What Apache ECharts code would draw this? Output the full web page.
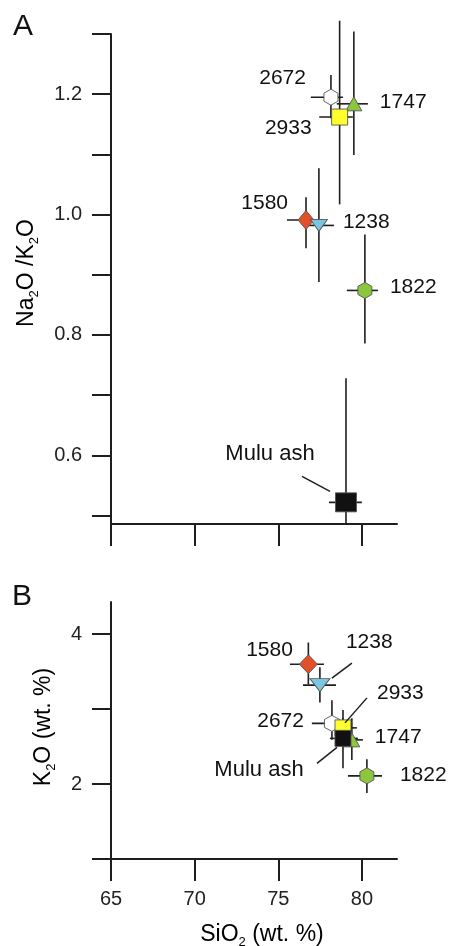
<!DOCTYPE html>
<html><head><meta charset="utf-8">
<script src="https://cdn.jsdelivr.net/npm/echarts@6/dist/echarts.min.js"></script>
<style>html,body{margin:0;padding:0;background:#fff}#c{width:451px;height:946px}</style>
</head><body><div id="c"></div>
<script>
// sample order (also draw order)
const samples = ['1822','1580','1238','2672','1747','2933','Mulu ash'];

// Panel A: SiO2 vs Na2O/K2O
const sio2A    = [80.18, 76.66, 77.43, 78.15, 79.52, 78.67, 79.05];
const sio2LoA  = [79.10, 75.52, 76.60, 76.95, 78.50, 77.45, 78.03];
const sio2HiA  = [80.96, 77.80, 78.33, 78.87, 80.36, 79.46, 80.00];
const ratioA   = [0.874, 0.991, 0.982, 1.195, 1.184, 1.162, 0.522];
const ratioLoA = [0.786, 0.944, 0.888, 1.160, 1.099, 1.017, 0.486];
const ratioHiA = [0.967, 1.029, 1.077, 1.232, 1.304, 1.322, 0.728];

// Panel B: SiO2 vs K2O
const sio2B   = [80.30, 76.80, 77.49, 78.21, 79.40, 78.87, 78.87];
const sio2LoB = [79.17, 75.70, 76.48, 77.01, 78.40, 78.27, 78.09];
const sio2HiB = [81.20, 77.73, 78.45, 79.20, 80.06, 79.70, 79.76];
const k2oB    = [2.11, 3.60, 3.32, 2.81, 2.59, 2.75, 2.61];
const k2oLoB  = [1.88, 3.33, 3.09, 2.59, 2.32, 2.49, 2.21];
const k2oHiB  = [2.33, 3.89, 3.56, 3.12, 2.88, 2.99, 2.88];

// tick values
const xTicks = [65, 70, 75, 80];
const yTicksA = [0.5, 0.6, 0.7, 0.8, 0.9, 1.0, 1.1, 1.2, 1.3];
const yLabelsA = [0.6, 0.8, 1.0, 1.2];
const yTicksB = [1, 2, 3, 4];
const yLabelsB = [2, 4];

// styles
const HEX = 'path://M0,-10L8.66,-5L8.66,5L0,10L-8.66,5L-8.66,-5Z';
const symStyle = {
  '1822': {symbol: HEX, color: '#8cc63f', rot: 0},
  '1580': {symbol: 'diamond', color: '#e2502a', rot: 0},
  '1238': {symbol: 'triangle', color: '#7cc5e0', rot: 180},
  '2672': {symbol: HEX, color: '#ffffff', rot: 0},
  '1747': {symbol: 'triangle', color: '#8cc63f', rot: 0},
  '2933': {symbol: 'rect', color: '#ffff2e', rot: 0},
  'Mulu ash': {symbol: 'rect', color: '#111111', rot: 0}
};
const sizeA = [[14,16],[16,19],[17,12],[14,16],[16,14],[16,16],[21,19]];
const sizeB = [[14,16],[18,19],[20,13],[15,16],[16,14],[16,16],[16,16]];
const labA = [
  {dx:25, dy:-3, align:'left'},
  {dx:-18, dy:-17, align:'right'},
  {dx:24, dy:-3, align:'left'},
  {dx:-25, dy:-19, align:'right'},
  {dx:26, dy:-1.5, align:'left'},
  {dx:-28, dy:11, align:'right'},
  {dx:-76, dy:-48, align:'center', leader:[-44,-26,-16,-11]}
];
const labB = [
  {dx:33, dy:-1, align:'left'},
  {dx:-15.5, dy:-14, align:'right'},
  {dx:26, dy:-43, align:'left', leader:[32,-22,12,-7]},
  {dx:-28, dy:-2, align:'right'},
  {dx:23, dy:-3, align:'left'},
  {dx:34, dy:-35, align:'left', leader:[24,-30,2,-5]},
  {dx:-84, dy:32, align:'center', leader:[-26,25,-6,9]}
];

const FONT = 'Liberation Sans, Arial, sans-serif';
const INK = '#1e1e1e';

function errRender(params, api) {
  const x = api.value(0), y = api.value(1);
  const xl = api.coord([api.value(2), y]), xh = api.coord([api.value(3), y]);
  const yl = api.coord([x, api.value(4)]), yh = api.coord([x, api.value(5)]);
  const st = {stroke: INK, lineWidth: 1.6};
  return {type: 'group', children: [
    {type: 'line', shape: {x1: xl[0], y1: xl[1], x2: xh[0], y2: xh[1]}, style: st},
    {type: 'line', shape: {x1: yl[0], y1: yl[1], x2: yh[0], y2: yh[1]}, style: st}
  ]};
}
function makeLabRender(cfg) {
  return function (params, api) {
    const i = params.dataIndex;
    const c = api.coord([api.value(0), api.value(1)]);
    const L = cfg[i];
    const name = samples[i];
    const children = [{
      type: 'text', x: c[0] + L.dx, y: c[1] + L.dy,
      style: {text: name, fill: '#111', font: (name === 'Mulu ash' ? 22 : 21) + 'px ' + FONT,
              align: L.align, verticalAlign: 'middle'}
    }];
    if (L.leader) {
      children.push({type: 'line', shape: {x1: c[0] + L.leader[0], y1: c[1] + L.leader[1],
        x2: c[0] + L.leader[2], y2: c[1] + L.leader[3]}, style: {stroke: INK, lineWidth: 1.5}});
    }
    return {type: 'group', children};
  };
}
function scatterData(xs, ys, sizes) {
  return samples.map((n, i) => ({
    name: n, value: [xs[i], ys[i]],
    symbol: symStyle[n].symbol, symbolSize: sizes[i], symbolRotate: symStyle[n].rot,
    itemStyle: {color: symStyle[n].color, borderColor: '#555', borderWidth: 0.9, opacity: 1}
  }));
}

const axisLine = {show: true, onZero: false, lineStyle: {color: INK, width: 2}};
const tickStyle = {lineStyle: {color: INK, width: 2}};

function xAxis(gi, showLabels) {
  return {
    type: 'value', gridIndex: gi, min: 65, max: 82.1,
    axisLine, splitLine: {show: false},
    axisTick: Object.assign({show: true, inside: false, length: 22, customValues: xTicks}, tickStyle),
    axisLabel: {show: showLabels, customValues: xTicks, margin: 30, fontSize: 20, fontFamily: FONT, color: '#222'}
  };
}

const chart = echarts.init(document.getElementById('c'));
chart.setOption({
  animation: false,
  backgroundColor: '#fff',
  grid: [
    {left: 111, top: 34, width: 286, height: 490},
    {left: 111, top: 602, width: 286, height: 257}
  ],
  xAxis: [xAxis(0, false), xAxis(1, true)],
  yAxis: [
    {type: 'value', gridIndex: 0, min: 0.486, max: 1.3, axisLine, splitLine: {show: false},
     axisTick: Object.assign({show: true, length: 19, customValues: yTicksA}, tickStyle),
     axisLabel: {customValues: yLabelsA, margin: 29, fontSize: 20, fontFamily: FONT, color: '#222',
                 formatter: v => Number(v).toFixed(1)}},
    {type: 'value', gridIndex: 1, min: 1, max: 4.43, axisLine, splitLine: {show: false},
     axisTick: Object.assign({show: true, length: 19, customValues: yTicksB}, tickStyle),
     axisLabel: {customValues: yLabelsB, margin: 29, fontSize: 20, fontFamily: FONT, color: '#222'}}
  ],
  series: [
    {type: 'custom', xAxisIndex: 0, yAxisIndex: 0, z: 1, renderItem: errRender,
     data: samples.map((n, i) => [sio2A[i], ratioA[i], sio2LoA[i], sio2HiA[i], ratioLoA[i], ratioHiA[i]])},
    {type: 'scatter', xAxisIndex: 0, yAxisIndex: 0, z: 2, itemStyle: {opacity: 1}, data: scatterData(sio2A, ratioA, sizeA)},
    {type: 'custom', xAxisIndex: 0, yAxisIndex: 0, z: 3, renderItem: makeLabRender(labA),
     data: samples.map((n, i) => [sio2A[i], ratioA[i]])},
    {type: 'custom', xAxisIndex: 1, yAxisIndex: 1, z: 1, renderItem: errRender,
     data: samples.map((n, i) => [sio2B[i], k2oB[i], sio2LoB[i], sio2HiB[i], k2oLoB[i], k2oHiB[i]])},
    {type: 'scatter', xAxisIndex: 1, yAxisIndex: 1, z: 2, itemStyle: {opacity: 1}, data: scatterData(sio2B, k2oB, sizeB)},
    {type: 'custom', xAxisIndex: 1, yAxisIndex: 1, z: 3, renderItem: makeLabRender(labB),
     data: samples.map((n, i) => [sio2B[i], k2oB[i]])}
  ],
  graphic: [
    {type: 'text', x: 23, y: 27, style: {text: 'A', font: '30px ' + FONT, fill: '#111', align: 'center', verticalAlign: 'middle'}},
    {type: 'text', x: 22, y: 597, style: {text: 'B', font: '30px ' + FONT, fill: '#111', align: 'center', verticalAlign: 'middle'}},
    {type: 'text', x: 27, y: 273, rotation: Math.PI / 2,
     style: {text: '{n|Na}{s|2}{n|O /K}{s|2}{n|O}', align: 'center', verticalAlign: 'middle',
       rich: {n: {fontSize: 23, fontFamily: FONT, color: '#111', lineHeight: 28, verticalAlign: 'middle'},
              s: {fontSize: 13, fontFamily: FONT, color: '#111', lineHeight: 28, verticalAlign: 'bottom'}}}},
    {type: 'text', x: 44, y: 727, rotation: Math.PI / 2,
     style: {text: '{n|K}{s|2}{n|O (wt. %)}', align: 'center', verticalAlign: 'middle',
       rich: {n: {fontSize: 23, fontFamily: FONT, color: '#111', lineHeight: 28, verticalAlign: 'middle'},
              s: {fontSize: 13, fontFamily: FONT, color: '#111', lineHeight: 28, verticalAlign: 'bottom'}}}},
    {type: 'text', x: 262, y: 935,
     style: {text: '{n|SiO}{s|2}{n| (wt. %)}', align: 'center', verticalAlign: 'middle',
       rich: {n: {fontSize: 23, fontFamily: FONT, color: '#111', lineHeight: 28, verticalAlign: 'middle'},
              s: {fontSize: 13, fontFamily: FONT, color: '#111', lineHeight: 28, verticalAlign: 'bottom'}}}}
  ]
});
</script></body></html>
